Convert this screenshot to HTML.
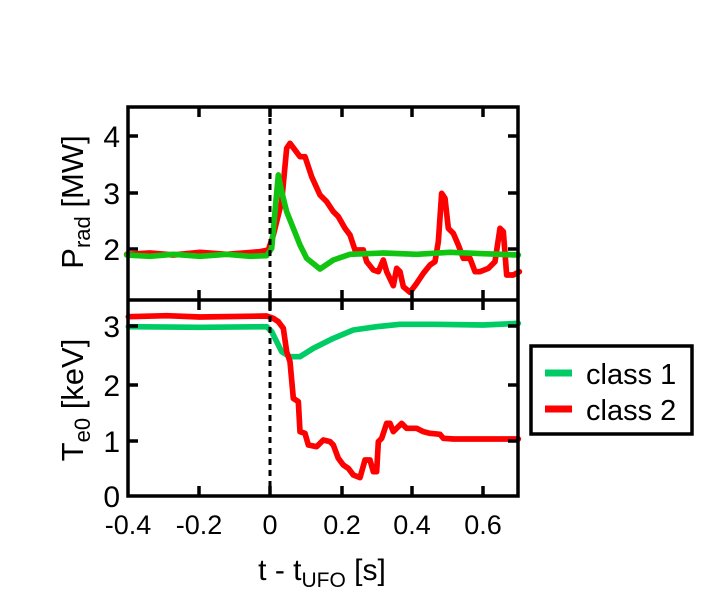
<!DOCTYPE html>
<html><head><style>body{margin:0;background:#fff}svg{display:block}text{font-family:"Liberation Sans",sans-serif;fill:#000}</style></head><body>
<svg width="725" height="600" viewBox="0 0 725 600">
<g transform="translate(100,95) scale(0.33333)" fill="none" stroke-linejoin="round" stroke-linecap="round" stroke-width="17">
<polyline stroke="#ff0000" points="80,478 150,474 220,480 300,472 380,478 480,470 505,465 520,420 545,320 560,160 570,145 585,165 600,185 615,185 635,245 660,300 680,320 700,350 715,365 735,400 750,420 765,465 790,465 800,500 820,525 835,530 850,495 860,530 880,572 890,520 900,530 910,575 930,592 950,565 970,535 990,510 1005,500 1015,440 1025,295 1035,310 1045,400 1060,415 1075,450 1090,490 1110,490 1125,530 1140,530 1165,520 1185,500 1200,400 1210,410 1220,540 1240,540 1258,530"/>
<polyline stroke="#11c411" points="80,480 150,484 220,478 300,484 380,478 450,484 500,482 515,460 535,240 545,290 560,350 600,450 620,490 660,522 700,495 750,478 850,474 950,478 1050,472 1150,476 1255,480"/>
</g>
<g transform="translate(100,295) scale(0.33333)" fill="none" stroke-linejoin="round" stroke-linecap="round" stroke-width="17">
<polyline stroke="#00cc66" points="85,95 300,97 500,95 515,110 530,140 545,170 570,185 600,185 640,160 700,130 760,105 830,95 900,88 1000,88 1150,90 1255,85"/>
<polyline stroke="#ff0000" points="85,65 200,62 300,66 500,63 520,70 535,80 550,100 560,170 570,200 580,310 595,320 600,410 615,415 625,450 650,455 670,435 690,440 700,450 715,490 730,510 745,520 760,540 780,548 795,495 810,495 820,530 830,530 835,440 845,430 860,385 870,385 880,410 895,395 905,385 920,400 950,400 970,410 990,415 1020,418 1030,430 1060,432 1255,432"/>
</g>
<line x1="270" y1="107" x2="270" y2="496" stroke="#000" stroke-width="3" stroke-dasharray="6,5"/>
<g stroke="#000" stroke-width="3.5" fill="none">
<rect x="128" y="107" width="390" height="389"/>
<line x1="128" y1="300" x2="518" y2="300"/>
<path d="M128,136h10M128,193h10M128,249h10M518,136h-10M518,193h-10M518,249h-10
M128,326h10M128,385h10M128,441h10M518,326h-10M518,385h-10M518,441h-10
M199,107v10M270,107v10M342,107v10M412,107v10M483,107v10
M199,300v-10M270,300v-10M342,300v-10M412,300v-10M483,300v-10
M199,300v10M270,300v10M342,300v10M412,300v10M483,300v10
M199,496v-10M270,496v-10M342,496v-10M412,496v-10M483,496v-10"/>
<rect x="531" y="346" width="161" height="88"/>
</g>
<line x1="545" y1="373" x2="572" y2="373" stroke="#00cc66" stroke-width="7"/>
<line x1="545" y1="409" x2="572" y2="409" stroke="#ff0000" stroke-width="7"/>
<text x="586" y="384" font-size="29">class 1</text>
<text x="586" y="420" font-size="29">class 2</text>
<g font-size="30" text-anchor="end">
<text x="120" y="147">4</text><text x="120" y="204">3</text><text x="120" y="260">2</text>
<text x="120" y="337">3</text><text x="120" y="396">2</text><text x="120" y="452">1</text><text x="120" y="507">0</text>
</g>
<g font-size="27" text-anchor="middle">
<text x="128" y="534">-0.4</text><text x="199" y="534">-0.2</text><text x="270" y="534">0</text><text x="342" y="534">0.2</text><text x="412" y="534">0.4</text><text x="483" y="534">0.6</text>
</g>
<text x="322" y="580" font-size="30" text-anchor="middle">t - t<tspan font-size="21" dy="7">UFO</tspan><tspan dy="-7"> [s]</tspan></text>
<text transform="translate(83,202) rotate(-90)" font-size="31" text-anchor="middle">P<tspan font-size="22" dy="7">rad</tspan><tspan dy="-7"> [MW]</tspan></text>
<text transform="translate(83,400) rotate(-90)" font-size="31" text-anchor="middle">T<tspan font-size="22" dy="7">e0</tspan><tspan dy="-7"> [keV]</tspan></text>
</svg>
</body></html>
